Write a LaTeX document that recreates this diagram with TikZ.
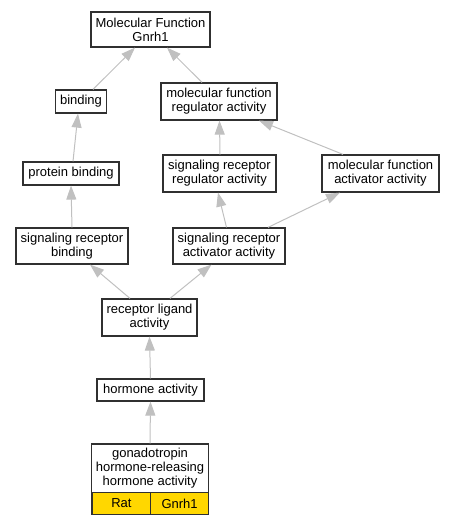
\documentclass[tikz,border=0pt]{standalone}
\usepackage{fontspec}
\setmainfont{Liberation Sans}
\usetikzlibrary{arrows.meta,calc}
\definecolor{edgegray}{HTML}{C0C0C0}
\definecolor{boxline}{HTML}{303030}
\definecolor{gold}{HTML}{FFD700}
\begin{document}
\begin{tikzpicture}[x=1pt,y=-1pt,
  box/.style={draw=boxline,line width=1.2pt,fill=white,inner sep=0pt,align=center,
    font=\fontsize{13}{14}\selectfont},
  cell/.style={draw=boxline,line width=1.2pt,fill=gold,inner sep=0pt,align=center,
    font=\fontsize{13}{14}\selectfont},
  edge/.style={draw=edgegray,line width=1pt,-{Triangle[length=14pt,width=10pt,fill=edgegray]}}]
\useasboundingbox (0,0) rectangle (453,525);
\node[box,minimum width=119pt,minimum height=35pt] (mf) at (150.5,29.5) {Molecular Function\\Gnrh1};
\node[box,minimum width=51pt,minimum height=23pt] (bind) at (81,101.5) {binding};
\node[box,minimum width=116pt,minimum height=37pt] (mfra) at (219,101.5) {molecular function\\regulator activity};
\node[box,minimum width=96pt,minimum height=23pt] (pb) at (71,173.5) {protein binding};
\node[box,minimum width=113pt,minimum height=37pt] (srra) at (219.5,173.5) {signaling receptor\\regulator activity};
\node[box,minimum width=117pt,minimum height=37pt] (mfaa) at (380.5,173.5) {molecular function\\activator activity};
\node[box,minimum width=112pt,minimum height=36pt] (srb) at (72,246) {signaling receptor\\binding};
\node[box,minimum width=112pt,minimum height=36pt] (sraa) at (229,246) {signaling receptor\\activator activity};
\node[box,minimum width=95pt,minimum height=37pt] (rla) at (149.5,317.5) {receptor ligand\\activity};
\node[box,minimum width=107pt,minimum height=22pt] (ha) at (150.5,390) {hormone activity};
\node[box,minimum width=116.5pt,minimum height=48.5pt] (gon) at (150,468.25) {gonadotropin\\hormone-releasing\\hormone activity};
\node[cell,minimum width=58.75pt,minimum height=22pt] (rat) at (121.375,503.5) {Rat};
\node[cell,minimum width=57.75pt,minimum height=22pt] (gene) at (179.625,503.5) {Gnrh1};
\draw[edge] ([xshift=12pt]bind.north) -- ([xshift=-15.5pt]mf.south);
\draw[edge] ([xshift=-17pt]mfra.north) -- ([xshift=16.5pt]mf.south);
\draw[edge] ([xshift=2pt]pb.north) -- ([xshift=-3pt]bind.south);
\draw[edge] ([xshift=0pt]srb.north) -- ([xshift=0pt]pb.south);
\draw[edge] ([xshift=0.5pt]srra.north) -- ([xshift=0.5pt]mfra.south);
\draw[edge] ([xshift=-37.5pt]mfaa.north) -- ([xshift=40pt]mfra.south);
\draw[edge] ([xshift=-2.5pt]sraa.north) -- ([xshift=-1.5pt]srra.south);
\draw[edge] ([xshift=39pt]sraa.north) -- ([xshift=-40.5pt]mfaa.south);
\draw[edge] ([xshift=-19.5pt]rla.north) -- ([xshift=18pt]srb.south);
\draw[edge] ([xshift=20.5pt]rla.north) -- ([xshift=-17.5pt]sraa.south);
\draw[edge] (ha.north) -- (rla.south);
\draw[edge] (gon.north) -- (ha.south);
\end{tikzpicture}
\end{document}
